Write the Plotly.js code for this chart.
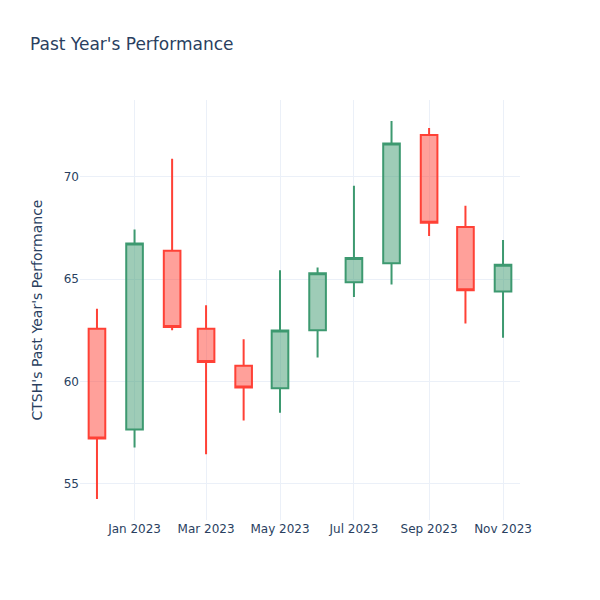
<!DOCTYPE html>
<html>
<head>
<meta charset="utf-8">
<script src="https://cdn.plot.ly/plotly-3.0.1.min.js"></script>
<style>html,body{margin:0;padding:0;background:#fff}#chart{width:600px;height:600px}</style>
</head>
<body>
<div id="chart"></div>
<script>
const dates = ['2022-12-01','2023-01-01','2023-02-01','2023-03-01','2023-04-01','2023-05-01','2023-06-01','2023-07-01','2023-08-01','2023-09-01','2023-10-01','2023-11-01'];
const openVals  = [62.58, 57.65, 66.39, 62.58, 60.77, 59.67, 62.50, 64.85, 65.78, 72.04, 67.55, 64.40];
const highVals  = [63.55, 67.43, 70.88, 63.73, 62.06, 65.44, 65.57, 69.57, 72.73, 72.39, 68.59, 66.91];
const lowVals   = [54.26, 56.78, 62.50, 56.45, 58.09, 58.47, 61.18, 64.13, 64.74, 67.11, 62.83, 62.14];
const closeVals = [57.22, 66.75, 62.66, 60.95, 59.71, 62.49, 65.29, 66.03, 71.63, 67.76, 64.46, 65.70];

const trace = {
  type: 'candlestick',
  x: dates, open: openVals, high: highVals, low: lowVals, close: closeVals,
  increasing: {line: {color: '#3D9970', width: 2}},
  decreasing: {line: {color: '#FF4136', width: 2}}
};
const layout = {
  width: 600, height: 600,
  paper_bgcolor: '#fff', plot_bgcolor: '#fff',
  font: {family: '"DejaVu Sans", verdana, arial, sans-serif', color: '#2a3f5f', size: 12},
  title: {text: "Past Year's Performance", x: 0.05, xanchor: 'left', font: {size: 17, color: '#2a3f5f'}},
  margin: {l: 80, r: 80, t: 100, b: 80},
  showlegend: false,
  xaxis: {
    rangeslider: {visible: false},
    gridcolor: '#EBF0F8', zeroline: false, showline: false,
    tickfont: {color: '#2a3f5f'}
  },
  yaxis: {
    title: {text: "CTSH's Past Year's Performance", font: {size: 14}},
    gridcolor: '#EBF0F8', zeroline: false, showline: false
  }
};
Plotly.newPlot('chart', [trace], layout, {displayModeBar: false});
</script>
</body>
</html>
